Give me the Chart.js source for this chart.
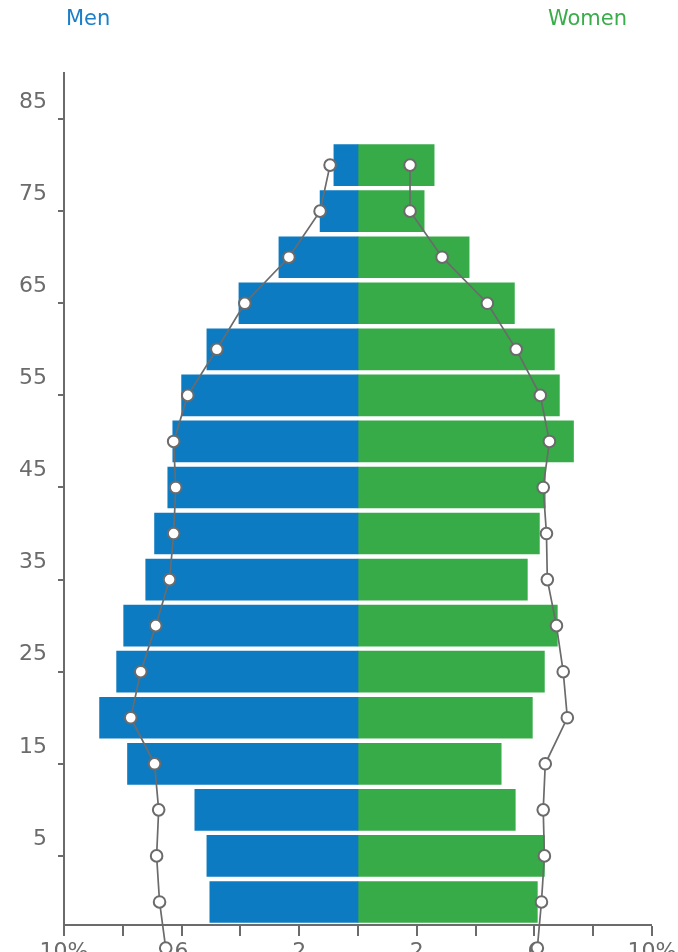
<!DOCTYPE html>
<html>
<head>
<meta charset="utf-8">
<script src="https://cdn.jsdelivr.net/npm/chart.js@4"></script>
<style>
  html, body { margin: 0; padding: 0; overflow: hidden; background: #fff; }
  #wrap { position: relative; width: 678px; height: 952px; }
  #chart { position: absolute; left: 0; top: 0; }
  .lg { position: absolute; top: 6px; font-family: 'DejaVu Sans', Verdana, sans-serif; font-size: 21px; line-height: 24px; }
  #lgMen { left: 66px; color: #1b7fc8; }
  #lgWomen { right: 51px; color: #3aad4b; }
</style>
</head>
<body>
<div id="wrap">
  <canvas id="chart" width="678" height="952"></canvas>
  <div class="lg" id="lgMen">Men</div>
  <div class="lg" id="lgWomen">Women</div>
</div>
<script>
// Age groups (bar centres)
const ages = [0, 5, 10, 15, 20, 25, 30, 35, 40, 45, 50, 55, 60, 65, 70, 75, 80];
// Bar values (% of population)
const menBars = [5.04, 5.14, 5.55, 7.84, 8.79, 8.21, 7.97, 7.22, 6.92, 6.47, 6.30, 6.00, 5.14, 4.05, 2.69, 1.29, 0.82];
const womenBars = [6.10, 6.34, 5.35, 4.87, 5.93, 6.34, 6.78, 5.76, 6.17, 6.37, 7.33, 6.85, 6.68, 5.32, 3.78, 2.25, 2.59];
// Comparison line points
const lineAges = [-5, 0, 5, 10, 15, 20, 25, 30, 35, 40, 45, 50, 55, 60, 65, 70, 75, 80];
const menLine = [6.54, 6.75, 6.85, 6.78, 6.92, 7.73, 7.39, 6.88, 6.41, 6.27, 6.20, 6.27, 5.79, 4.80, 3.85, 2.35, 1.29, 0.95];
const womenLine = [6.10, 6.24, 6.34, 6.30, 6.37, 7.12, 6.98, 6.75, 6.44, 6.41, 6.30, 6.51, 6.20, 5.38, 4.40, 2.86, 1.77, 1.77];
// Axis ticks
const yTicks = [5, 15, 25, 35, 45, 55, 65, 75, 85];
const xTickValues = [-10, -6, -2, 2, 6, 10];
const xTickTexts = ['10%', '6', '2', '2', '6', '10%'];

Chart.defaults.font.family = "'DejaVu Sans', Verdana, sans-serif";

const axisGray = '#6b6b6b';

// Draw line points that fall just outside the plot area (the reference shows them cut by the page edge)
const outsidePoints = {
  id: 'outsidePoints',
  afterDatasetsDraw(chart) {
    const ctx = chart.ctx;
    const a = chart.chartArea;
    const big = { left: 0, top: 0, right: chart.width, bottom: chart.height + 40 };
    chart.data.datasets.forEach((ds, i) => {
      if (ds.type !== 'line') return;
      chart.getDatasetMeta(i).data.forEach(pt => {
        if (pt.y > a.bottom || pt.y < a.top) pt.draw(ctx, big);
      });
    });
  }
};

new Chart(document.getElementById('chart'), {
  type: 'bar',
  plugins: [outsidePoints],
  data: {
    datasets: [
      {
        type: 'line',
        label: 'Men line',
        data: lineAges.map((a, i) => ({ x: -menLine[i], y: a })),
        indexAxis: 'y',
        borderColor: axisGray,
        borderWidth: 1.7,
        pointRadius: 5.8,
        pointBorderWidth: 2,
        pointBackgroundColor: '#fff',
        pointBorderColor: axisGray,
        tension: 0,
        clip: false,
        order: 0
      },
      {
        type: 'line',
        label: 'Women line',
        data: lineAges.map((a, i) => ({ x: womenLine[i], y: a })),
        indexAxis: 'y',
        borderColor: axisGray,
        borderWidth: 1.7,
        pointRadius: 5.8,
        pointBorderWidth: 2,
        pointBackgroundColor: '#fff',
        pointBorderColor: axisGray,
        tension: 0,
        clip: false,
        order: 0
      },
      {
        label: 'Men',
        data: ages.map((a, i) => ({ x: -menBars[i], y: a })),
        backgroundColor: '#0d7bc2',
        barThickness: 41,
        grouped: false,
        order: 1
      },
      {
        label: 'Women',
        data: ages.map((a, i) => ({ x: womenBars[i], y: a })),
        backgroundColor: '#37ab48',
        barThickness: 41,
        grouped: false,
        order: 1
      }
    ]
  },
  options: {
    indexAxis: 'y',
    responsive: false,
    animation: false,
    layout: { padding: { top: 73, left: 0, right: 26, bottom: 0 } },
    plugins: { legend: { display: false }, tooltip: { enabled: false } },
    scales: {
      x: {
        type: 'linear',
        min: -10,
        max: 10,
        offset: false,
        afterFit: (s) => { s.height = 27; s.paddingLeft = 0; s.paddingRight = 0; },
        ticks: {
          stepSize: 2,
          autoSkip: false,
          maxRotation: 0,
          padding: 3,
          color: axisGray,
          font: { size: 22 },
          callback: (v) => { const i = xTickValues.indexOf(v); return i >= 0 ? xTickTexts[i] : ''; }
        },
        grid: { offset: false, drawOnChartArea: false, drawTicks: true, tickLength: 11, color: axisGray, lineWidth: 0, tickWidth: 2, tickColor: axisGray },
        border: { display: true, color: axisGray, width: 2 }
      },
      y: {
        type: 'linear',
        min: -2.5,
        max: 90,
        offset: false,
        afterFit: (s) => { s.width = 64; s.paddingTop = 0; s.paddingBottom = 0; },
        afterBuildTicks: (s) => { s.ticks = yTicks.map(v => ({ value: v })); },
        ticks: {
          autoSkip: false,
          padding: 11,
          labelOffset: -17,
          color: axisGray,
          font: { size: 22 },
          callback: (v) => String(v)
        },
        grid: { offset: false, drawOnChartArea: false, drawTicks: true, tickLength: 6, color: axisGray, lineWidth: 0, tickWidth: 2, tickColor: axisGray },
        border: { display: true, color: axisGray, width: 2 }
      }
    }
  }
});
</script>
</body>
</html>
